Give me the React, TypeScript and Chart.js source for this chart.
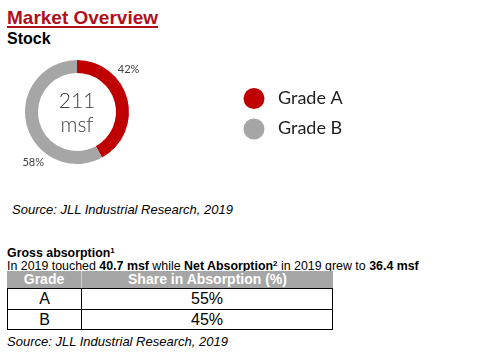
import React, { useEffect, useRef } from "react";
import { Chart, registerables } from "chart.js";

Chart.register(...registerables);

// ---- data ----
const stockLabels = ["Grade A", "Grade B"];
const stockShares = [42, 58];
const stockColors = ["#c00000", "#a6a6a6"];
const stockTotal = "211";
const stockUnit = "msf";

const tableGrades = ["A", "B"];
const tableShares = [55, 45];
const tableHeaders = ["Grade", "Share in Absorption (%)"];

const sourceText = "Source: JLL Industrial Research, 2019";

const LBL = "Lato, 'Open Sans', sans-serif";

const overlayPlugin = {
  id: "overlay",
  afterDraw(chart: any) {
    const ctx = chart.ctx;
    const meta = chart.getDatasetMeta(0);
    const data = chart.data.datasets[0].data as number[];
    ctx.save();
    // percent labels
    ctx.fillStyle = "#404040";
    ctx.font = `11px ${LBL}`;
    ctx.textAlign = "center";
    ctx.textBaseline = "middle";
    meta.data.forEach((arc: any, i: number) => {
      const p = arc.getProps(["x", "y", "startAngle", "endAngle", "outerRadius"], true);
      const a = p.startAngle + (p.endAngle - p.startAngle) / 3;
      const r = p.outerRadius + 15;
      ctx.fillText(`${data[i]}%`, p.x + r * Math.cos(a), p.y + r * Math.sin(a));
    });
    // center text
    const a0 = meta.data[0];
    ctx.font = `300 21px ${LBL}`;
    ctx.textBaseline = "alphabetic";
    ctx.fillText(stockTotal, a0.x, a0.y - 4);
    ctx.fillText(stockUnit, a0.x, a0.y + 20);
    // legend
    const lx = 254;
    const rows = [48.5, 79];
    const baselines = [53.5, 84];
    ctx.textAlign = "left";
    ctx.font = `18px ${LBL}`;
    (chart.data.labels as string[]).forEach((lab, i) => {
      ctx.beginPath();
      ctx.fillStyle = stockColors[i];
      ctx.arc(lx, rows[i], 10.5, 0, Math.PI * 2);
      ctx.fill();
      ctx.fillStyle = "#1f1f1f";
      ctx.fillText(lab, 278, baselines[i]);
    });
    ctx.restore();
  },
};

function Doughnut() {
  const ref = useRef<HTMLCanvasElement | null>(null);
  useEffect(() => {
    if (!ref.current) return;
    const chart = new Chart(ref.current, {
      type: "doughnut",
      data: {
        labels: stockLabels,
        datasets: [
          {
            data: stockShares,
            backgroundColor: stockColors,
            borderWidth: 0,
          },
        ],
      },
      options: {
        responsive: false,
        animation: false,
        cutout: "75%",
        layout: { padding: { left: 25, right: 231, top: 10, bottom: 16 } },
        plugins: { legend: { display: false }, tooltip: { enabled: false } },
      },
      plugins: [overlayPlugin],
    });
    return () => chart.destroy();
  }, []);
  return (
    <canvas
      ref={ref}
      width={360}
      height={130}
      style={{ position: "absolute", left: 0, top: 50, width: 360, height: 130 }}
    />
  );
}

const AR = "'Liberation Sans', Arial, sans-serif";

export default function App() {
  const txt = (top: number, size: number, extra: React.CSSProperties = {}) => ({
    position: "absolute" as const,
    left: 7,
    top,
    fontSize: size,
    lineHeight: `${size}px`,
    whiteSpace: "nowrap" as const,
    fontFamily: AR,
    color: "#000",
    ...extra,
  });
  const cellBorder = "1px solid #000";
  return (
    <div
      style={{
        position: "absolute",
        left: 0,
        top: 0,
        width: 500,
        height: 356,
        background: "#fff",
        overflow: "hidden",
      }}
    >
      <div
        style={txt(8, 19, {
          fontWeight: "bold",
          color: "#b0101c",
          textDecoration: "underline",
          textDecorationThickness: "2px",
          textUnderlineOffset: "2px",
        })}
      >
        Market Overview
      </div>
      <div style={txt(31, 16, { fontWeight: "bold" })}>Stock</div>
      <Doughnut />
      <div style={txt(203.3, 13, { fontStyle: "italic", left: 12 })}>{sourceText}</div>
      <div style={txt(245, 12.4, { fontWeight: "bold" })}>
        Gross absorption<sup style={{ fontSize: 8, verticalAlign: "4px" }}>1</sup>
      </div>
      <div style={txt(257.6, 12.4)}>
        In 2019 touched <b>40.7 msf</b> while <b>Net Absorption</b>
        <sup style={{ fontSize: 8, verticalAlign: "4px", fontWeight: "bold" }}>2</sup> in 2019 grew to{" "}
        <b>36.4 msf</b>
      </div>
      <div style={{ position: "absolute", left: 7, top: 271, width: 326, fontFamily: AR }}>
        <div style={{ display: "flex", height: 17, background: "#a6a6a6", color: "#fff", fontWeight: "bold", fontSize: 14, lineHeight: "17px" }}>
          <div style={{ width: 75, textAlign: "center", borderRight: "1px solid #d0d0d0", boxSizing: "border-box" }}>{tableHeaders[0]}</div>
          <div style={{ flex: 1, textAlign: "center" }}>{tableHeaders[1]}</div>
        </div>
        {tableGrades.map((g, i) => (
          <div
            key={g}
            style={{
              display: "flex",
              height: 21,
              boxSizing: "border-box",
              borderLeft: cellBorder,
              borderRight: cellBorder,
              borderTop: cellBorder,
              borderBottom: i === tableGrades.length - 1 ? cellBorder : "none",
              fontFamily: "'Liberation Sans Narrow', 'Arial Narrow', " + AR,
              fontSize: 16,
              lineHeight: "20px",
            }}
          >
            <div style={{ width: 74, textAlign: "center", borderRight: cellBorder, boxSizing: "border-box" }}>{g}</div>
            <div style={{ flex: 1, textAlign: "center" }}>{tableShares[i]}%</div>
          </div>
        ))}
      </div>
      <div style={txt(335.3, 13, { fontStyle: "italic" })}>{sourceText}</div>
    </div>
  );
}
